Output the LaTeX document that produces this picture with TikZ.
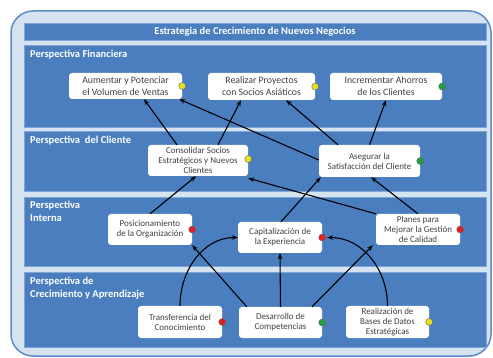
\documentclass[tikz,border=0pt]{standalone}
\usepackage{fontspec}
\setmainfont{Carlito}
\usetikzlibrary{arrows.meta}
\definecolor{panelblue}{HTML}{4A7EBF}
\definecolor{paneledge}{HTML}{7FA6D6}
\definecolor{framefill}{HTML}{D5E2F0}
\definecolor{frameline}{HTML}{5B8AC6}
\definecolor{txtgray}{HTML}{404040}
\definecolor{dotyellow}{HTML}{E6E020}
\definecolor{dotgreen}{HTML}{20A040}
\definecolor{dotred}{HTML}{E02020}
\tikzset{
  panel/.style={fill=panelblue, draw=paneledge, line width=0.6pt},
  plabel/.style={text=white, font=\fontsize{10.5}{12.5}\selectfont\bfseries, align=left, inner sep=0pt},
  bigbox/.style={fill=white, rounded corners=3pt, align=center, text=txtgray, inner sep=0pt, font=\fontsize{9.8}{12}\selectfont},
  smallbox/.style={fill=white, rounded corners=3pt, align=center, text=txtgray, inner sep=0pt, font=\fontsize{9}{10}\selectfont},
  dot/.style={circle, draw=black!60, line width=0.4pt, minimum size=7pt, inner sep=0pt},
  arr/.style={-{Stealth[length=6pt,width=4.5pt]}, line width=1.1pt, black}
}
\begin{document}
\begin{tikzpicture}[x=1pt,y=-1pt]
\useasboundingbox (0,0) rectangle (493,358);
% frame
\draw[fill=framefill, draw=frameline, line width=1.5pt, rounded corners=22pt] (11,11) rectangle (491,356);
% title
\draw[panel] (24,23) rectangle (486,40);
\node[text=white, font=\fontsize{10.5}{12}\selectfont\bfseries] (title) at (255,31.5) {Estrategia de Crecimiento de Nuevos Negocios};
% panels
\draw[panel] (24,45) rectangle (486,127);
\draw[panel] (24,131) rectangle (486,191);
\draw[panel] (24,197) rectangle (486,266);
\draw[panel] (24,272) rectangle (486,347);
\node[plabel, anchor=west] (l1) at (30,55) {Perspectiva Financiera};
\node[plabel, anchor=west] (l2) at (30,141) {Perspectiva\ \ del Cliente};
\node[plabel, anchor=north west] (l3) at (30,201) {Perspectiva\\Interna};
\node[plabel, anchor=north west] (l4) at (30,277) {Perspectiva de\\Crecimiento y Aprendizaje};
% boxes
\node[bigbox, minimum width=113pt, minimum height=26pt] (A) at (125.5,86) {Aumentar y Potenciar\\el Volumen de Ventas};
\node[bigbox, minimum width=107pt, minimum height=27pt] (R) at (261.5,86.5) {Realizar Proyectos\\con Socios Asiáticos};
\node[bigbox, minimum width=112pt, minimum height=27pt] (I) at (386,86.5) {Incrementar Ahorros\\de los Clientes};
\node[smallbox, minimum width=100pt, minimum height=31pt] (C) at (198,160.5) {Consolidar Socios\\Estratégicos y Nuevos\\Clientes};
\node[smallbox, minimum width=101pt, minimum height=32pt] (S) at (369.5,161) {Asegurar la\\Satisfacción del Cliente};
\node[smallbox, minimum width=84pt, minimum height=31pt] (P) at (150,229.5) {Posicionamiento\\de la Organización};
\node[smallbox, minimum width=84pt, minimum height=31pt] (K) at (280,237.5) {Capitalización de\\la Experiencia};
\node[smallbox, minimum width=84pt, minimum height=31pt] (G) at (418,229.5) {Planes para\\Mejorar la Gestión\\de Calidad};
\node[smallbox, minimum width=84pt, minimum height=32pt] (T) at (180,322) {Transferencia del\\Conocimiento};
\node[smallbox, minimum width=83pt, minimum height=31pt] (D) at (280.5,322.5) {Desarrollo de\\Competencias};
\node[smallbox, minimum width=83pt, minimum height=32pt] (B) at (387.5,322) {Realización de\\Bases de Datos\\Estratégicas};
% dots
\node[dot, fill=dotyellow] (dA) at (A.east) {};
\node[dot, fill=dotyellow] (dR) at (R.east) {};
\node[dot, fill=dotgreen] (dI) at (I.east) {};
\node[dot, fill=dotyellow] (dC) at ([yshift=1.5pt]C.east) {};
\node[dot, fill=dotgreen] (dS) at (S.east) {};
\node[dot, fill=dotred] (dP) at (P.east) {};
\node[dot, fill=dotred] (dK) at (K.east) {};
\node[dot, fill=dotred] (dG) at (G.east) {};
\node[dot, fill=dotred] (dT) at (T.east) {};
\node[dot, fill=dotgreen] (dD) at (D.east) {};
\node[dot, fill=dotyellow] (dB) at (B.east) {};
% arrows
\draw[arr] ([xshift=-21pt]C.north) -- ([xshift=18.5pt]A.south);
\draw[arr] ([xshift=20pt]C.north) -- ([xshift=-20.5pt]R.south);
\draw[arr] ([yshift=1pt]S.west) -- ([xshift=-3pt]A.south east);
\draw[arr] ([xshift=-31.5pt]S.north) -- ([xshift=24.5pt]R.south);
\draw[arr] (S.north) -- (I.south);
\draw[arr] (P.north) -- ([xshift=-2pt]C.south);
\draw[arr] ([xshift=1pt]K.north) -- ([xshift=2pt]S.south west);
\draw[arr] (G.north west) -- ([yshift=-2pt]C.south east);
\draw[arr] (G.north) -- ([xshift=1.5pt]S.south);
\draw[arr] (T.north) to[out=90, in=180] (K.west);
\draw[arr] ([xshift=8pt]D.north west) -- (P.south east);
\draw[arr] (D.north) -- (K.south);
\draw[arr] ([xshift=31.5pt]D.north) -- ([xshift=-3pt]G.south west);
\draw[arr] (B.north) to[out=90, in=0] ([xshift=5pt]K.east);
\end{tikzpicture}
\end{document}
